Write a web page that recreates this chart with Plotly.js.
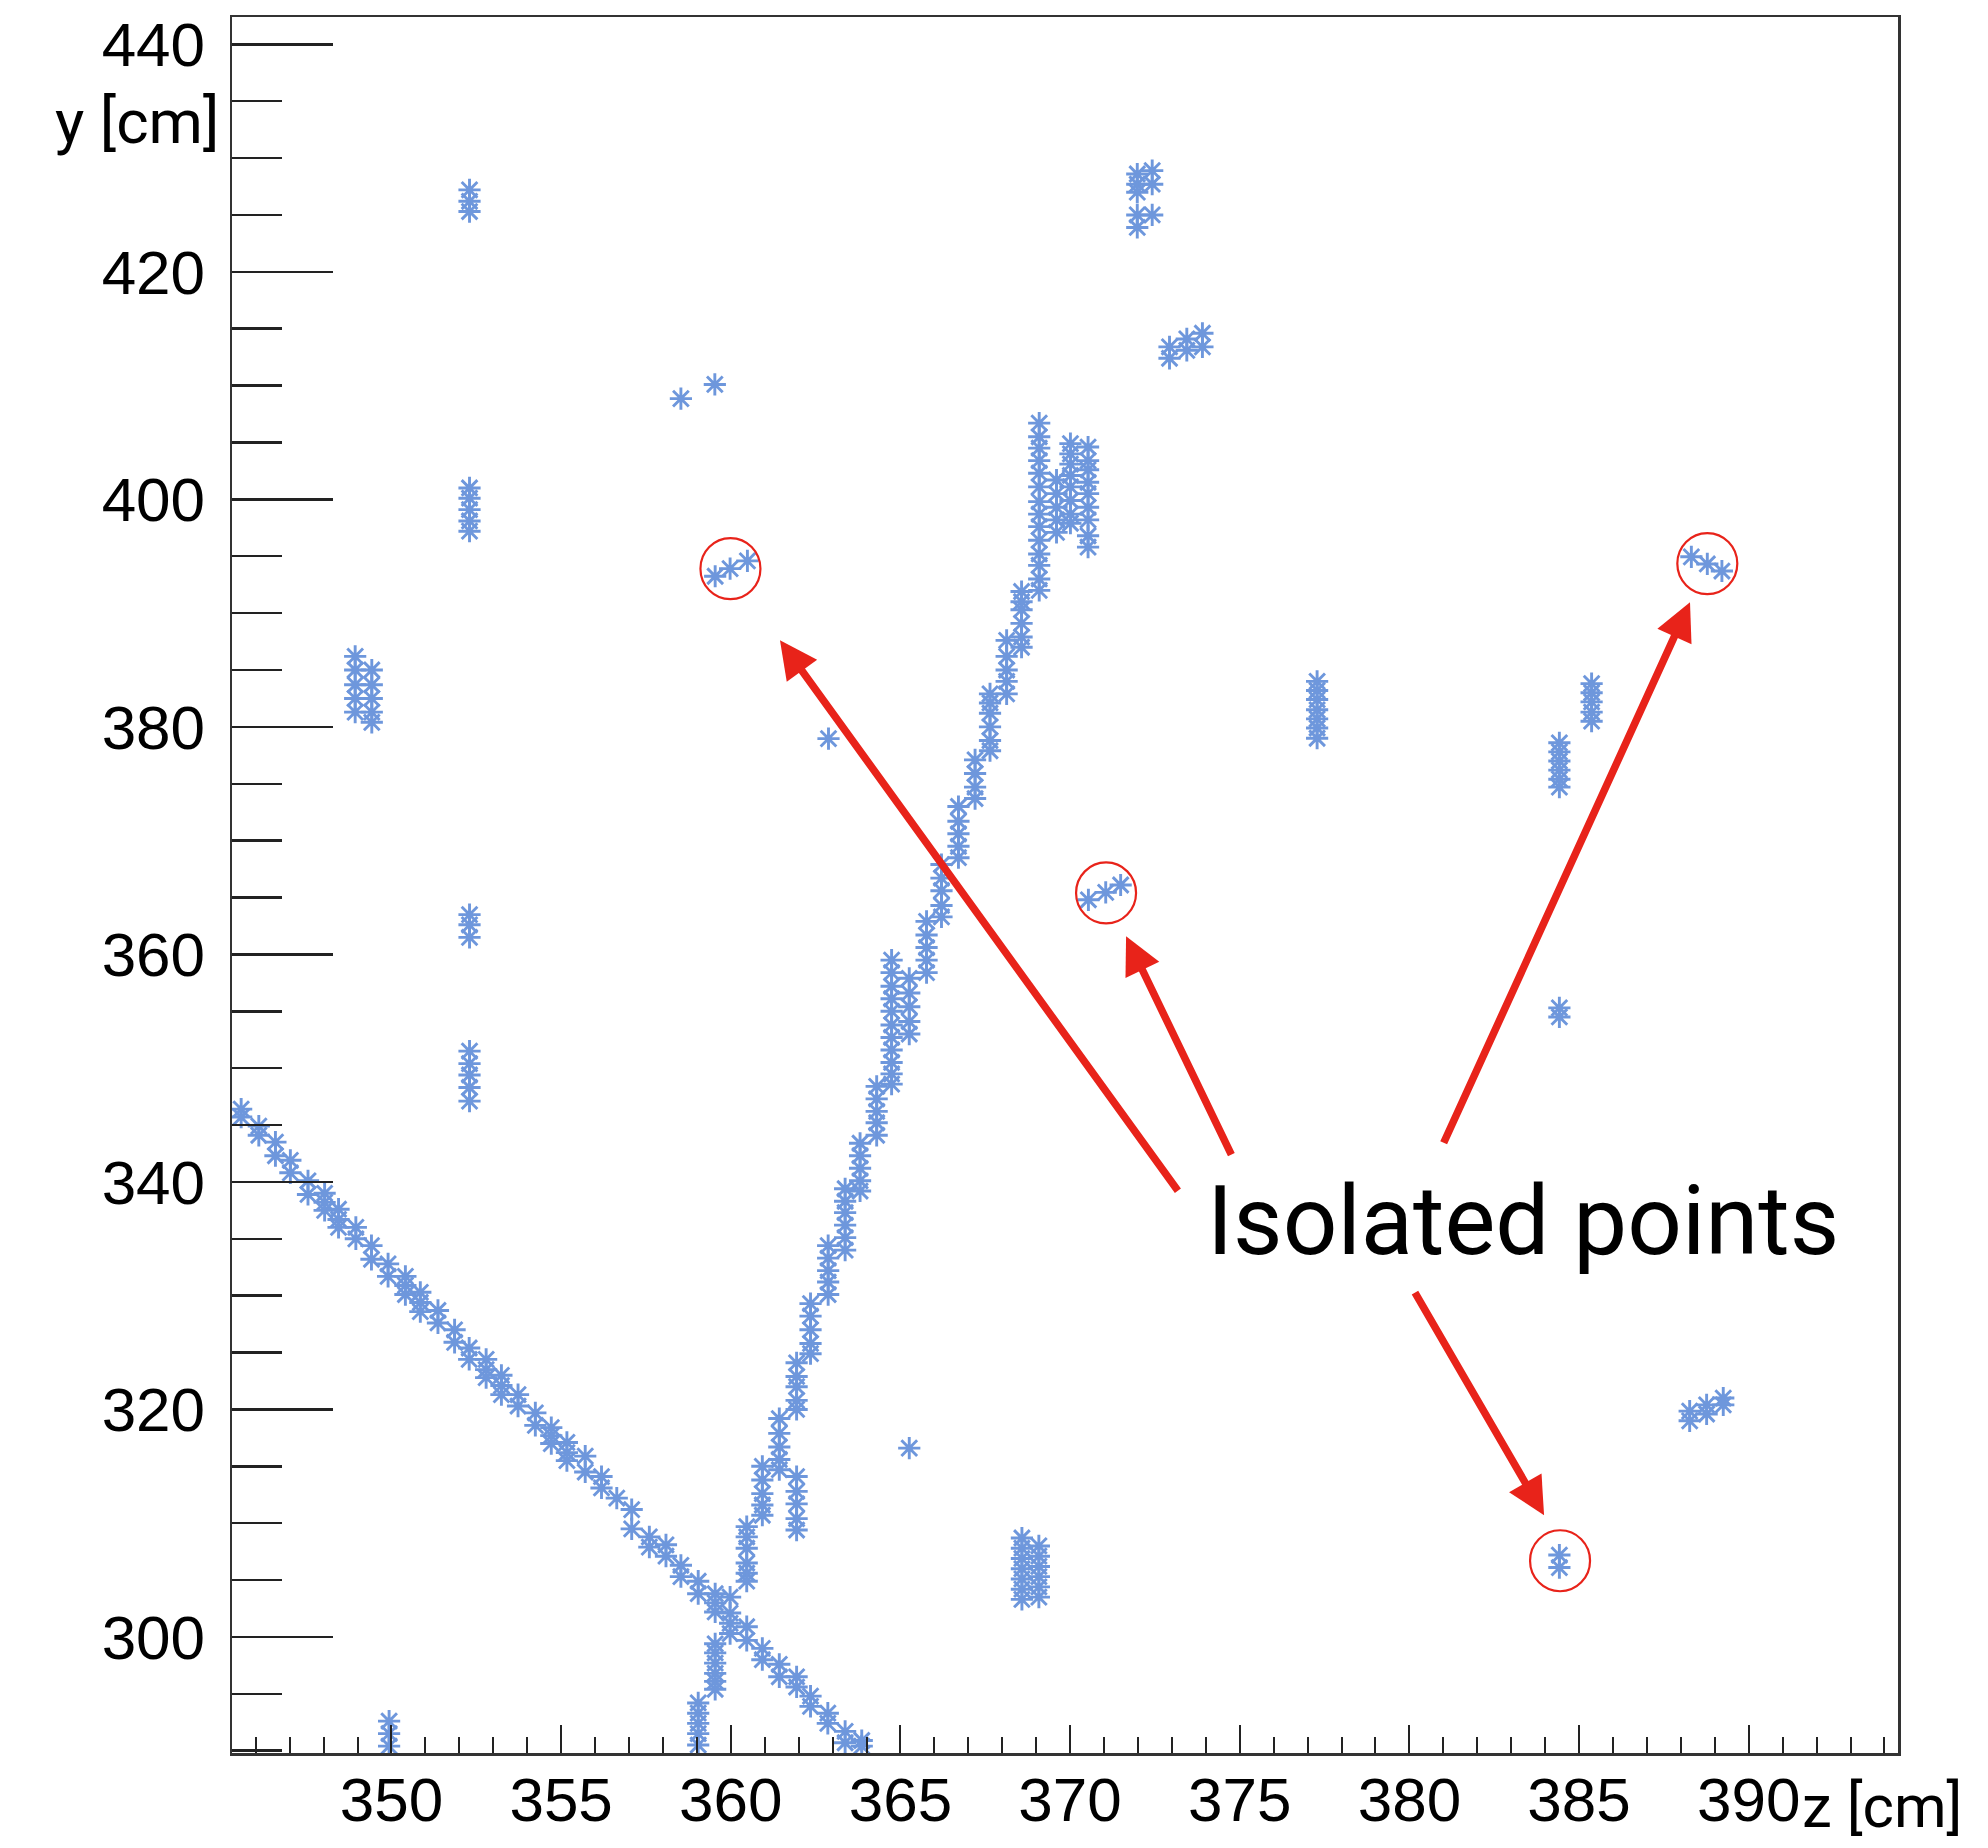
<!DOCTYPE html>
<html>
<head>
<meta charset="utf-8">
<script src="https://cdn.plot.ly/plotly-3.0.1.min.js"></script>
<style>html,body{margin:0;padding:0;background:#fff;}#chart{width:1988px;height:1848px;}</style>
</head>
<body>
<div id="chart"></div>
<script>
// ---- data (z [cm], y [cm]) ----
const descTrackZ = [345.57,345.57,346.09,346.09,346.58,346.58,347.02,347.02,347.54,347.54,
  348.03,348.03,348.03,348.44,348.44,348.44,348.95,348.95,349.41,349.41,349.90,349.90,
  350.41,350.41,350.41,350.85,350.85,350.85,351.37,351.37,351.86,351.86,352.29,352.29,
  352.79,352.79,352.79,353.24,353.24,353.24,353.73,353.73,354.24,354.24,354.71,354.71,354.71,
  355.17,355.17,355.17,355.71,355.71,356.19,356.19,356.64,357.08,357.08,357.60,357.60,
  358.09,358.09,358.53,358.53,359.04,359.04,359.54,359.54,359.54,359.98,359.98,359.98,359.98,
  360.47,360.47,360.93,360.93,361.43,361.43,361.94,361.94,362.35,362.35,362.86,362.86,
  363.37,363.37,363.86,363.86];
const descTrackY = [346.4,345.7,344.9,344.1,343.5,342.3,341.9,340.8,340.1,338.9,
  339.0,338.2,337.5,337.6,336.7,336.0,336.0,335.0,334.4,333.2,332.8,331.7,
  331.7,330.9,330.1,330.3,329.4,328.6,328.7,327.6,327.0,325.9,325.4,324.4,
  324.4,323.5,322.8,323.0,322.1,321.3,321.3,320.3,319.7,318.6,318.4,317.7,317.0,
  317.1,316.2,315.5,315.9,314.5,314.1,313.1,312.2,311.2,309.5,308.8,307.9,
  308.1,307.1,306.3,305.3,304.9,303.8,303.8,303.0,302.2,303.5,302.1,301.2,300.3,
  300.9,299.7,299.0,298.0,297.6,296.5,296.5,295.6,294.8,293.9,293.3,292.4,
  291.7,290.7,290.9,290.4];

const ascTrackZ = [359.04,359.04,359.04,359.04,359.04,
  359.54,359.54,359.54,359.54,359.54,359.54,
  360.47,360.47,360.47,360.47,360.47,360.47,
  360.93,360.93,360.93,360.93,360.93,
  361.43,361.43,361.43,361.43,361.43,
  361.94,361.94,361.94,361.94,361.94,
  362.35,362.35,362.35,362.35,362.35,
  362.87,362.87,362.87,362.87,362.87,
  363.37,363.37,363.37,363.37,363.37,363.37,
  363.81,363.81,363.81,363.81,363.81,
  364.30,364.30,364.30,364.30,364.30,
  364.74,364.74,364.74,364.74,364.74,364.74,364.74,364.74,364.74,364.74,364.74,
  365.26,365.26,365.26,365.26,365.26,
  365.77,365.77,365.77,365.77,365.77,
  366.21,366.21,366.21,366.21,366.21,
  366.71,366.71,366.71,366.71,366.71,
  367.20,367.20,367.20,367.20,
  367.64,367.64,367.64,367.64,367.64,367.64,
  368.13,368.13,368.13,368.13,368.13,
  368.57,368.57,368.57,368.57,368.57,368.57,
  369.09,369.09,369.09,369.09,369.09,369.09,369.09,369.09,369.09,369.09,369.09,369.09,369.09,369.09];
const ascTrackY = [294.2,293.3,292.4,291.5,290.5,
  299.4,298.6,297.7,296.8,296.1,295.4,
  309.7,308.8,307.8,306.5,305.6,304.9,
  315.0,313.8,312.6,311.6,310.7,
  319.2,317.9,316.7,315.6,314.7,
  324.1,322.9,322.0,320.8,320.0,
  329.3,328.2,327.0,325.8,324.9,
  334.4,333.3,332.2,331.2,330.1,
  339.4,338.3,337.3,336.2,335.1,334.0,
  343.4,342.3,341.2,340.1,339.2,
  348.4,347.3,346.2,345.2,344.1,
  359.5,358.4,357.2,356.1,355.0,353.8,352.7,351.6,350.5,349.5,348.6,
  357.9,356.6,355.4,354.1,353.0,
  362.9,361.7,360.6,359.5,358.4,
  367.9,366.7,365.6,364.3,363.3,
  373.0,371.7,370.6,369.5,368.5,
  377.1,375.9,374.7,373.7,
  382.9,382.1,381.2,380.0,378.8,377.9,
  387.6,386.2,385.0,384.0,382.9,
  391.9,391.0,390.3,389.1,387.9,387.0,
  406.7,405.5,404.5,403.4,402.3,401.1,399.8,398.7,397.6,396.4,395.2,394.2,393.0,392.0];

const branchZ = [361.94,361.94,361.94,361.94,361.94];
const branchY = [314.1,312.8,311.7,310.4,309.4];

const endClusterZ = [369.60,369.60,369.60,369.60,369.60,
  370.01,370.01,370.01,370.01,370.01,370.01,370.01,370.01,
  370.53,370.53,370.53,370.53,370.53,370.53,370.53,370.53,370.53];
const endClusterY = [401.7,400.5,399.3,398.2,397.1,
  404.9,404.0,403.1,402.1,401.1,399.9,398.7,397.9,
  404.6,403.4,402.6,401.5,400.5,399.3,398.2,396.8,395.8];

const clusterZ = [352.3,352.3,352.3, 352.3,352.3,352.3,352.3,352.3,
  352.3,352.3,352.3, 352.3,352.3,352.3,352.3,352.3,
  348.93,348.93,348.93,348.93,348.93, 349.42,349.42,349.42,349.42,349.42,
  349.93,349.93,349.93, 358.53,359.53, 362.88, 365.26,
  371.98,371.98,371.98,371.98,371.98, 372.42,372.42,372.42,
  372.93,372.93, 373.44,373.44, 373.90,373.90,
  377.28,377.28,377.28,377.28,377.28,377.28,377.28,
  385.37,385.37,385.37,385.37,385.37,
  384.42,384.42,384.42,384.42,384.42,384.42,
  384.42,384.42,
  368.58,368.58,368.58,368.58,368.58,368.58,368.58,
  369.08,369.08,369.08,369.08,369.08,369.08,
  388.26,388.26,388.76,388.76,389.25,389.25];
const clusterY = [427.2,426.2,425.3, 401.0,400.1,399.1,398.1,397.2,
  363.5,362.6,361.5, 351.5,350.4,349.4,348.3,347.1,
  386.2,385.0,383.7,382.5,381.3, 385.0,383.7,382.5,381.3,380.4,
  292.6,291.5,290.4, 408.85,410.1, 378.97, 316.6,
  428.6,427.7,427.0,425.0,423.9, 428.9,427.7,425.0,
  413.4,412.4, 414.1,413.1, 414.6,413.4,
  384.0,383.2,382.4,381.5,380.7,379.9,379.0,
  383.8,383.0,382.2,381.3,380.5,
  378.6,377.8,377.0,376.2,375.4,374.7,
  355.3,354.5,
  308.7,307.8,306.9,306.0,305.1,304.2,303.3,
  308.0,307.1,306.2,305.3,304.4,303.5,
  319.85,319.0,320.4,319.6,321.0,320.4];

const isolatedZ = [359.54,359.98,360.49, 370.54,371.05,371.49, 388.31,388.78,389.21, 384.42,384.42];
const isolatedY = [393.24,393.91,394.59, 364.8,365.45,366.1, 394.95,394.32,393.7, 307.2,306.1];

const xTickVals = [350,355,360,365,370,375,380,385,390];
const yTickVals = [300,320,340,360,380,400,420,440];

// ---- styling ----
const hitColor = '#6e97dc';
const red = '#e8231a';
function hits(zs, ys, name) {
  return {
    type: 'scatter', mode: 'markers', name: name, x: zs, y: ys,
    marker: {symbol: 'asterisk-open', size: 18.5, color: hitColor,
             line: {color: hitColor, width: 2.9}},
    hoverinfo: 'x+y'
  };
}
const traces = [
  hits(descTrackZ, descTrackY, 'track 1'),
  hits(ascTrackZ, ascTrackY, 'track 2'),
  hits(branchZ, branchY, 'branch'),
  hits(endClusterZ, endClusterY, 'end cluster'),
  hits(clusterZ, clusterY, 'clusters'),
  hits(isolatedZ, isolatedY, 'isolated')
];

const circleCenters = [[359.99,393.91],[371.06,365.4],[388.78,394.35],[384.44,306.7]];
const shapes = circleCenters.map(c => ({
  type: 'circle', xref: 'x', yref: 'y', xsizemode: 'pixel', ysizemode: 'pixel',
  xanchor: c[0], yanchor: c[1], x0: -30, x1: 30, y0: -30.5, y1: 30.5,
  line: {color: red, width: 2.2}
}));

const arrowDefs = [
  {x: 361.45, y: 387.61, ax: 399, ay: 552},
  {x: 371.65, y: 361.6, ax: 106, ay: 220},
  {x: 388.27, y: 390.95, ax: -247, ay: 542},
  {x: 383.97, y: 310.7, ax: -130, ay: -224}
];
const annotations = arrowDefs.map(a => ({
  x: a.x, y: a.y, xref: 'x', yref: 'y', ax: a.ax, ay: a.ay, text: '',
  showarrow: true, arrowhead: 2, arrowsize: 1, arrowwidth: 7.5, arrowcolor: red, standoff: 0
}));
annotations.push(
  {x: 383.35, y: 336.55, xref: 'x', yref: 'y', text: 'Isolated points', showarrow: false,
   xanchor: 'center', yanchor: 'middle', font: {family: 'Roboto', size: 96, color: '#000'}},
  {x: -0.0066, y: 0.94, xref: 'paper', yref: 'paper', text: 'y [cm]', showarrow: false,
   xanchor: 'right', yanchor: 'middle', font: {family: 'Roboto', size: 62, color: '#000'}},
  {x: 1.0405, y: -0.0525, xref: 'paper', yref: 'paper', text: 'z [cm]', showarrow: false,
   xanchor: 'right', yanchor: 'bottom', font: {family: 'Roboto', size: 60, color: '#000'}}
);

const layout = {
  width: 1988, height: 1848,
  margin: {l: 232, r: 90, t: 17, b: 95, pad: 0},
  paper_bgcolor: '#ffffff', plot_bgcolor: '#ffffff',
  showlegend: false,
  xaxis: {
    range: [345.3, 394.4], tickvals: xTickVals, ticktext: xTickVals.map(String),
    ticks: 'inside', ticklen: 28, tickwidth: 2, tickcolor: '#222',
    minor: {dtick: 1, ticks: 'inside', ticklen: 16, tickwidth: 2, tickcolor: '#222', showgrid: false},
    showgrid: false, zeroline: false, showline: true, linecolor: '#333', linewidth: 2.5, mirror: true,
    tickfont: {family: 'Liberation Sans, Arial, sans-serif', size: 62, color: '#000'},
    ticklabelstandoff: -9
  },
  yaxis: {
    range: [289.8, 442.4], tickvals: yTickVals, ticktext: yTickVals.map(String),
    ticks: 'inside', ticklen: 101, tickwidth: 2.5, tickcolor: '#222',
    minor: {dtick: 5, ticks: 'inside', ticklen: 50, tickwidth: 2.5, tickcolor: '#222', showgrid: false},
    showgrid: false, zeroline: false, showline: true, linecolor: '#333', linewidth: 2.5, mirror: true,
    tickfont: {family: 'Liberation Sans, Arial, sans-serif', size: 62, color: '#000'},
    ticklabelstandoff: 12
  },
  shapes: shapes,
  annotations: annotations
};

Plotly.newPlot('chart', traces, layout, {staticPlot: true, displayModeBar: false});
</script>
</body>
</html>
